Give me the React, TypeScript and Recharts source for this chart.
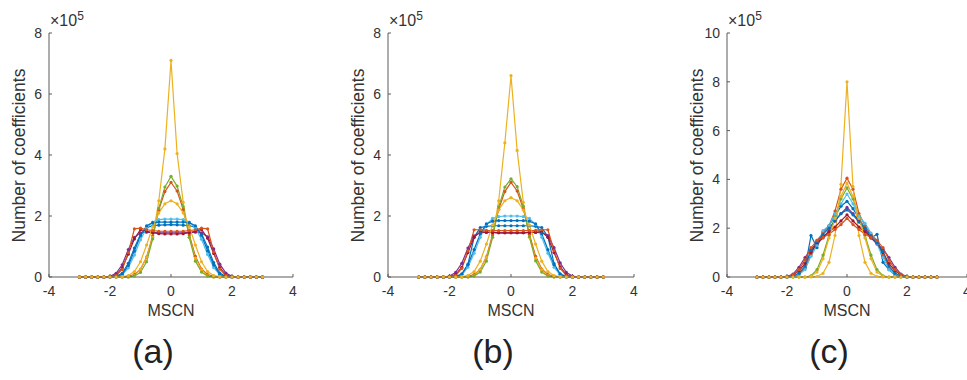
import React from "react";
import { LineChart, Line, XAxis, YAxis } from "recharts";

// MSCN bins, shared by all three panels
const X = [-3, -2.8, -2.6, -2.4, -2.2, -2, -1.8, -1.6, -1.4, -1.2, -1, -0.8, -0.6, -0.4, -0.2, 0,
  0.2, 0.4, 0.6, 0.8, 1, 1.2, 1.4, 1.6, 1.8, 2, 2.2, 2.4, 2.6, 2.8, 3];

const X_TICKS = [-4, -2, 0, 2, 4];
const Y_TICKS_8 = [0, 2, 4, 6, 8];
const Y_TICKS_10 = [0, 2, 4, 6, 8, 10];

// matlab default order
const COLORS = ["#0072BD", "#D95319", "#EDB120", "#7E2F8E", "#77AC30", "#4DBEEE", "#A2142F", "#0072BD", "#D95319", "#EDB120"];

// panel (a), counts in 1e5
const A1 = [0, 0, 0, 0, 0, 0, 0.02, 0.12, 0.45, 0.95, 1.4, 1.62, 1.68, 1.7, 1.71, 1.72, 1.71, 1.7, 1.68, 1.63, 1.42, 0.98, 0.47, 0.13, 0.02, 0, 0, 0, 0, 0, 0];
const A2 = [0, 0, 0, 0, 0, 0, 0, 0, 0.02, 0.08, 0.25, 0.65, 1.35, 2.2, 2.8, 3.1, 2.82, 2.22, 1.38, 0.68, 0.26, 0.08, 0.02, 0, 0, 0, 0, 0, 0, 0, 0];
const A3 = [0, 0, 0, 0, 0, 0, 0, 0, 0, 0.05, 0.25, 0.65, 1.3, 2.5, 4.2, 7.1, 4.05, 2.45, 1.3, 0.62, 0.24, 0.05, 0, 0, 0, 0, 0, 0, 0, 0, 0];
const A4 = [0, 0, 0, 0, 0, 0.02, 0.12, 0.4, 0.9, 1.3, 1.45, 1.47, 1.46, 1.45, 1.45, 1.45, 1.45, 1.45, 1.46, 1.47, 1.45, 1.32, 0.92, 0.42, 0.13, 0.02, 0, 0, 0, 0, 0];
const A5 = [0, 0, 0, 0, 0, 0, 0, 0, 0, 0.03, 0.15, 0.5, 1.25, 2.25, 2.95, 3.3, 2.98, 2.3, 1.3, 0.52, 0.16, 0.03, 0, 0, 0, 0, 0, 0, 0, 0, 0];
const A6 = [0, 0, 0, 0, 0, 0, 0.01, 0.07, 0.3, 0.72, 1.22, 1.6, 1.8, 1.88, 1.9, 1.9, 1.9, 1.88, 1.8, 1.6, 1.24, 0.74, 0.31, 0.07, 0.01, 0, 0, 0, 0, 0, 0];
const A7 = [0, 0, 0, 0, 0, 0.01, 0.06, 0.3, 0.75, 1.25, 1.55, 1.5, 1.45, 1.42, 1.41, 1.41, 1.41, 1.42, 1.45, 1.5, 1.56, 1.27, 0.77, 0.31, 0.06, 0.01, 0, 0, 0, 0, 0];
const A8 = [0, 0, 0, 0, 0, 0, 0.01, 0.09, 0.38, 0.85, 1.35, 1.68, 1.78, 1.8, 1.8, 1.8, 1.8, 1.8, 1.78, 1.68, 1.36, 0.86, 0.39, 0.09, 0.01, 0, 0, 0, 0, 0, 0];
const A9 = [0, 0, 0, 0, 0, 0.01, 0.05, 0.25, 0.8, 1.58, 1.6, 1.55, 1.52, 1.5, 1.5, 1.5, 1.5, 1.5, 1.52, 1.55, 1.6, 1.58, 0.82, 0.26, 0.05, 0.01, 0, 0, 0, 0, 0];
const A10 = [0, 0, 0, 0, 0, 0, 0, 0.01, 0.05, 0.18, 0.5, 1.05, 1.65, 2.1, 2.4, 2.5, 2.4, 2.1, 1.65, 1.05, 0.5, 0.18, 0.05, 0.01, 0, 0, 0, 0, 0, 0, 0];

// panel (b)
const B1 = [0, 0, 0, 0, 0, 0, 0.02, 0.1, 0.42, 1.3, 1.62, 1.66, 1.68, 1.68, 1.68, 1.68, 1.68, 1.68, 1.68, 1.66, 1.62, 1.32, 0.44, 0.1, 0.02, 0, 0, 0, 0, 0, 0];
const B2 = [0, 0, 0, 0, 0, 0, 0, 0, 0.02, 0.08, 0.25, 0.66, 1.38, 2.22, 2.8, 3.1, 2.82, 2.24, 1.4, 0.68, 0.26, 0.08, 0.02, 0, 0, 0, 0, 0, 0, 0, 0];
const B3 = [0, 0, 0, 0, 0, 0, 0, 0, 0, 0.05, 0.25, 0.65, 1.3, 2.5, 4.4, 6.6, 4.15, 2.45, 1.3, 0.62, 0.24, 0.05, 0, 0, 0, 0, 0, 0, 0, 0, 0];
const B4 = [0, 0, 0, 0, 0, 0.03, 0.15, 0.45, 0.95, 1.35, 1.45, 1.46, 1.46, 1.45, 1.45, 1.45, 1.45, 1.45, 1.46, 1.46, 1.45, 1.36, 0.96, 0.46, 0.15, 0.03, 0, 0, 0, 0, 0];
const B5 = [0, 0, 0, 0, 0, 0, 0, 0, 0, 0.03, 0.16, 0.52, 1.3, 2.3, 2.95, 3.22, 2.96, 2.32, 1.32, 0.53, 0.16, 0.03, 0, 0, 0, 0, 0, 0, 0, 0, 0];
const B6 = [0, 0, 0, 0, 0, 0, 0.01, 0.07, 0.32, 0.78, 1.3, 1.72, 1.92, 1.98, 2.0, 2.0, 2.0, 1.98, 1.92, 1.72, 1.3, 0.78, 0.32, 0.07, 0.01, 0, 0, 0, 0, 0, 0];
const B7 = [0, 0, 0, 0, 0, 0.01, 0.08, 0.32, 0.8, 1.3, 1.48, 1.47, 1.46, 1.45, 1.45, 1.45, 1.45, 1.45, 1.46, 1.47, 1.48, 1.3, 0.8, 0.33, 0.08, 0.01, 0, 0, 0, 0, 0];
const B8 = [0, 0, 0, 0, 0, 0, 0.01, 0.09, 0.4, 0.9, 1.42, 1.74, 1.83, 1.85, 1.85, 1.85, 1.85, 1.85, 1.83, 1.74, 1.42, 0.9, 0.4, 0.09, 0.01, 0, 0, 0, 0, 0, 0];
const B9 = [0, 0, 0, 0, 0, 0.01, 0.05, 0.28, 0.85, 1.55, 1.55, 1.53, 1.52, 1.52, 1.52, 1.52, 1.52, 1.52, 1.52, 1.53, 1.55, 1.55, 0.86, 0.28, 0.05, 0.01, 0, 0, 0, 0, 0];
const B10 = [0, 0, 0, 0, 0, 0, 0, 0.01, 0.05, 0.18, 0.52, 1.08, 1.7, 2.2, 2.5, 2.6, 2.5, 2.2, 1.7, 1.08, 0.52, 0.18, 0.05, 0.01, 0, 0, 0, 0, 0, 0, 0];

// panel (c)
const C1 = [0, 0, 0, 0, 0, 0, 0.02, 0.1, 0.35, 1.7, 1.2, 1.85, 2.1, 2.5, 2.9, 3.1, 2.8, 2.4, 2.0, 1.6, 1.75, 0.6, 0.3, 0.08, 0.02, 0, 0, 0, 0, 0, 0];
const C2 = [0, 0, 0, 0, 0, 0, 0.03, 0.15, 0.4, 0.9, 1.5, 1.8, 2.1, 2.7, 3.6, 4.05, 3.6, 2.6, 2.1, 1.75, 1.5, 0.9, 0.4, 0.15, 0.03, 0, 0, 0, 0, 0, 0];
const C3 = [0, 0, 0, 0, 0, 0, 0, 0, 0, 0, 0.02, 0.15, 0.6, 1.7, 3.8, 8.0, 3.7, 1.7, 0.6, 0.15, 0.02, 0, 0, 0, 0, 0, 0, 0, 0, 0, 0];
const C4 = [0, 0, 0, 0, 0, 0.02, 0.12, 0.4, 0.8, 1.15, 1.35, 1.6, 1.9, 2.3, 2.6, 2.85, 2.6, 2.3, 1.9, 1.6, 1.35, 1.15, 0.8, 0.4, 0.12, 0.02, 0, 0, 0, 0, 0];
const C5 = [0, 0, 0, 0, 0, 0, 0, 0, 0, 0.05, 0.3, 0.9, 1.7, 2.5, 3.2, 3.65, 3.2, 2.5, 1.7, 0.9, 0.3, 0.05, 0, 0, 0, 0, 0, 0, 0, 0, 0];
const C6 = [0, 0, 0, 0, 0, 0, 0.02, 0.1, 0.3, 0.85, 1.3, 1.9, 2.1, 2.6, 3.0, 3.4, 3.0, 2.5, 2.2, 1.8, 1.35, 0.8, 0.3, 0.1, 0.02, 0, 0, 0, 0, 0, 0];
const C7 = [0, 0, 0, 0, 0, 0.01, 0.08, 0.25, 0.55, 1.0, 1.4, 1.65, 1.85, 2.05, 2.3, 2.55, 2.3, 2.05, 1.85, 1.65, 1.4, 1.0, 0.55, 0.25, 0.08, 0.01, 0, 0, 0, 0, 0];
const C8 = [0, 0, 0, 0, 0, 0, 0.03, 0.15, 0.45, 1.1, 1.45, 1.75, 2.0, 2.3, 2.6, 2.75, 2.55, 2.25, 2.0, 1.7, 1.4, 1.05, 0.45, 0.15, 0.03, 0, 0, 0, 0, 0, 0];
const C9 = [0, 0, 0, 0, 0, 0.02, 0.1, 0.3, 0.7, 1.2, 1.5, 1.62, 1.75, 1.95, 2.15, 2.4, 2.15, 1.95, 1.75, 1.62, 1.5, 1.2, 0.7, 0.3, 0.1, 0.02, 0, 0, 0, 0, 0];
const C10 = [0, 0, 0, 0, 0, 0, 0, 0, 0, 0.03, 0.2, 0.75, 1.6, 2.4, 3.3, 3.85, 3.3, 2.4, 1.6, 0.75, 0.2, 0.03, 0, 0, 0, 0, 0, 0, 0, 0, 0];

const SERIES_A = [A1, A2, A3, A4, A5, A6, A7, A8, A9, A10];
const SERIES_B = [B1, B2, B3, B4, B5, B6, B7, B8, B9, B10];
const SERIES_C = [C1, C2, C3, C4, C5, C6, C7, C8, C9, C10];

const FONT = "'Liberation Sans', Arial, sans-serif";
const AXIS = "#5a5a5a";

function toRows(series: number[][]) {
  return X.map((x, i) => {
    const row: Record<string, number> = { x };
    series.forEach((s, k) => { row[`s${k}`] = s[i]; });
    return row;
  });
}

interface PanelProps {
  left: number;
  width: number;
  yAxisW: number;
  rightM: number;
  series: number[][];
  yMax: number;
  yTicks: number[];
  tag: string;
}

function Panel({ left, width, yAxisW, rightM, series, yMax, yTicks, tag }: PanelProps) {
  const data = toRows(series);
  const plotLeft = left + yAxisW;
  const zeroX = plotLeft + (width - yAxisW - rightM) / 2;
  const tickStyle = { fill: "#333", fontSize: 14, fontFamily: FONT };

  return (
    <>
      <div style={{ position: "absolute", left, top: 0 }}>
        <LineChart width={width} height={300} data={data}
          margin={{ top: 33, right: rightM, bottom: 0, left: 0 }}>
          <XAxis dataKey="x" type="number" domain={[-4, 4]} ticks={X_TICKS} interval={0}
            height={23} tickSize={-3} tickMargin={12} stroke={AXIS} tick={tickStyle} />
          <XAxis xAxisId="top" orientation="top" type="number" domain={[-4, 4]} ticks={X_TICKS}
            height={0} tickSize={-3} tick={false} stroke={AXIS} />
          <YAxis type="number" domain={[0, yMax]} ticks={yTicks} interval={0}
            width={yAxisW} tickSize={-3} tickMargin={10} stroke={AXIS} tick={tickStyle} />
          <YAxis yAxisId="right" orientation="right" type="number" domain={[0, yMax]} ticks={yTicks}
            width={0} tickSize={-3} tick={false} stroke={AXIS} />
          {series.map((_, k) => (
            <Line key={k} dataKey={`s${k}`} stroke={COLORS[k]} strokeWidth={1.2}
              dot={{ r: 1.6, fill: COLORS[k], stroke: COLORS[k], strokeWidth: 0 }}
              activeDot={false} isAnimationActive={false} />
          ))}
        </LineChart>
      </div>

      {/* ×10^5 exponent */}
      <div style={{ position: "absolute", left: plotLeft + 1, top: 9, fontFamily: FONT, fontSize: 16, color: "#333" }}>
        ×10<sup style={{ fontSize: 12 }}>5</sup>
      </div>

      <div style={{
        position: "absolute", left: plotLeft - 29, top: 155, width: 0, height: 0,
        display: "flex", alignItems: "center", justifyContent: "center",
      }}>
        <div style={{ transform: "rotate(-90deg)", whiteSpace: "nowrap", fontFamily: FONT, fontSize: 17.5, color: "#333" }}>
          Number of coefficients
        </div>
      </div>

      <div style={{ position: "absolute", left: zeroX - 50, width: 100, top: 302, textAlign: "center", fontFamily: FONT, fontSize: 16, color: "#333" }}>
        MSCN
      </div>

      <div style={{ position: "absolute", left: zeroX - 68, width: 100, top: 332, textAlign: "center", fontFamily: FONT, fontSize: 34, color: "#222" }}>
        {tag}
      </div>
    </>
  );
}

export default function App() {
  return (
    <div style={{ position: "absolute", left: 0, top: 0, width: 967, height: 380, background: "#fff", overflow: "hidden" }}>
      <Panel left={0} width={300} yAxisW={49} rightM={7} series={SERIES_A} yMax={8} yTicks={Y_TICKS_8} tag="(a)" />
      <Panel left={340} width={300} yAxisW={48} rightM={6} series={SERIES_B} yMax={8} yTicks={Y_TICKS_8} tag="(b)" />
      <Panel left={680} width={287} yAxisW={47} rightM={0} series={SERIES_C} yMax={10} yTicks={Y_TICKS_10} tag="(c)" />
    </div>
  );
}
